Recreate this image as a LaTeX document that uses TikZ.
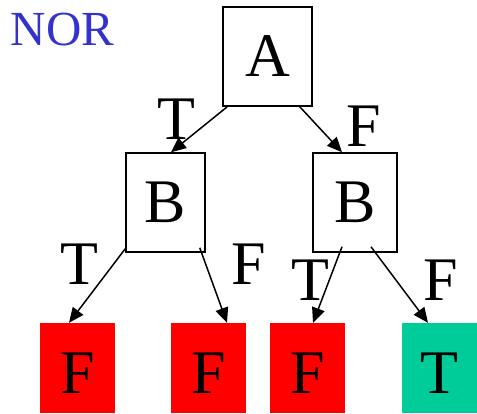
\documentclass[tikz,border=0pt]{standalone}
\usepackage{fontspec}
\setmainfont{Liberation Serif}
\usepackage{xcolor}
\usetikzlibrary{arrows.meta}
\definecolor{falsered}{HTML}{FF0000}
\definecolor{truegreen}{HTML}{00CC99}
\definecolor{titleblue}{HTML}{3333CC}
\newcommand\treefont{\fontsize{62}{62}\selectfont}
\newcommand\titlefont{\fontsize{49}{49}\selectfont}
\tikzstyle{var}=[draw,line width=1.5pt,inner sep=0pt,minimum height=99pt,font=\treefont]
\tikzstyle{leaf}=[inner sep=0pt,minimum width=75pt,minimum height=90pt,text height=51pt,font=\treefont]
\tikzstyle{lbl}=[inner sep=0pt,font=\treefont]
\tikzstyle{branch}=[line width=1.5pt,-{Triangle[length=15pt,width=13pt]}]

\begin{document}
\begin{tikzpicture}[x=1pt,y=-1pt]
	\useasboundingbox (0,0) rectangle (477,413);
	\node[inner sep=0pt,font=\titlefont,text=titleblue] (title) at (62.5,29.5) {NOR};
	\node[var,minimum width=89pt] (a)  at (267.5,56.5) {A};
	\node[var,minimum width=79pt] (bl) at (165.5,202.5) {B};
	\node[var,minimum width=84pt] (br) at (355,202.5) {B};
	\node[leaf,fill=falsered]  (tt) at (77.5,368)  {F};
	\node[leaf,fill=falsered]  (tf) at (208.5,368) {F};
	\node[leaf,fill=falsered]  (ft) at (307.5,368) {F};
	\node[leaf,fill=truegreen] (ff) at (439.5,368) {T};
	\draw[branch] ([xshift=5pt]a.south west) -- ([xshift=5.5pt]bl.north) node[lbl] at (176,119) {T};
	\draw[branch] ([xshift=-13pt]a.south east) -- ([xshift=-13pt]br.north) node[lbl] at (364,126) {F};
	\draw[branch] ([yshift=4pt]bl.south west) -- ([xshift=-8.5pt]tt.north) node[lbl] at (79,264.5) {T};
	\draw[branch] ([xshift=-6pt,yshift=5pt]bl.south east) -- ([xshift=18.5pt]tf.north) node[lbl] at (249,264.5) {F};
	\draw[branch] ([xshift=-13pt,yshift=6pt]br.south) -- ([xshift=5.5pt]ft.north) node[lbl] at (310,280.5) {T};
	\draw[branch] ([xshift=16pt,yshift=6pt]br.south) -- ([xshift=-11.5pt]ff.north) node[lbl] at (441,280.5) {F};
\end{tikzpicture}
\end{document}
